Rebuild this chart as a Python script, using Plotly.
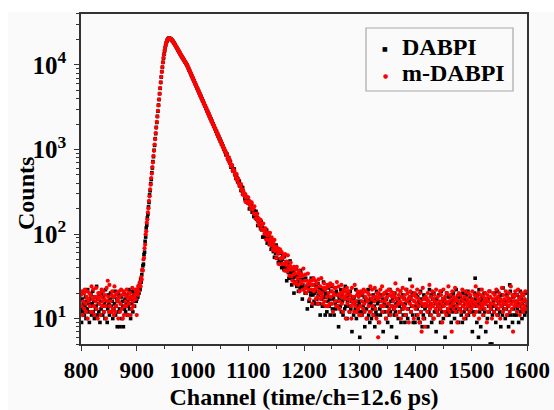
import plotly.graph_objects as go

# Channel numbers (categories along x)
channel = list(range(800, 1601))

# DABPI counts, one value per channel, 800..1600
dabpi = [
    13, 9, 17, 12, 15, 20, 11, 14, 18, 10, 16, 13, 22, 12, 15, 9, 17, 14, 19, 11,
    15, 21, 12, 16, 10, 18, 13, 14, 24, 11, 17, 15, 12, 19, 9, 16, 13, 20, 14, 11,
    18, 12, 15, 10, 22, 14, 16, 9, 13, 19, 15, 11, 17, 20, 12, 14, 16, 10, 18, 13,
    15, 21, 11, 14, 17, 8, 16, 12, 19, 13, 8, 15, 18, 10, 16, 14, 8, 20, 13, 17,
    12, 15, 19, 11, 16, 14, 22, 13, 17, 10, 18, 15, 21, 12, 16, 19, 14, 17, 20, 16,
    17, 21, 18, 24, 20, 26, 22, 29, 27, 33, 37, 42, 44, 57, 61, 82, 92, 118, 127, 155,
    171, 209, 236, 290, 325, 394, 442, 531, 603, 718, 821, 978, 1118, 1342, 1537, 1826, 2087, 2467, 2831, 3352,
    3887, 4573, 5281, 6224, 7183, 8322, 9371, 10731, 11962, 13388, 14662, 16041, 17163, 18245, 19068, 19842, 20261, 20643, 20672, 20619,
    20384, 20391, 19873, 19721, 19186, 18962, 18437, 18119, 17548, 17230, 16618, 16334, 15792, 15510, 14961, 14652, 14183, 13941, 13447, 13215,
    12752, 12533, 12104, 11921, 11538, 11347, 10962, 10804, 10451, 10297, 9931, 9704, 9281, 9063, 8659, 8451, 8093, 7897, 7551, 7370,
    7041, 6893, 6570, 6431, 6132, 6018, 5722, 5611, 5337, 5241, 4981, 4893, 4652, 4570, 4338, 4268, 4046, 3989, 3772, 3721,
    3531, 3479, 3290, 3248, 3069, 3035, 2861, 2836, 2671, 2648, 2489, 2473, 2325, 2308, 2166, 2155, 2019, 2012, 1884, 1879,
    1765, 1756, 1645, 1639, 1532, 1536, 1429, 1432, 1336, 1339, 1244, 1251, 1160, 1171, 1082, 1093, 1008, 1021, 942, 951,
    864, 884, 877, 801, 761, 803, 733, 692, 712, 617, 648, 639, 589, 552, 570, 587, 503, 506, 454, 485,
    458, 414, 434, 404, 422, 367, 370, 327, 361, 325, 353, 294, 303, 298, 260, 288, 256, 239, 264, 235,
    231, 245, 198, 225, 216, 200, 224, 181, 199, 183, 161, 189, 172, 154, 185, 149, 157, 126, 141, 148,
    145, 127, 116, 140, 112, 118, 92, 117, 111, 93, 109, 99, 91, 111, 78, 91, 84, 95, 75, 79,
    81, 66, 79, 70, 82, 62, 68, 53, 71, 59, 74, 52, 60, 60, 46, 62, 50, 45, 59, 49,
    40, 50, 55, 42, 38, 54, 42, 37, 47, 28, 41, 44, 35, 30, 40, 48, 30, 35, 25, 38,
    29, 35, 20, 32, 31, 27, 38, 24, 32, 27, 21, 33, 29, 23, 37, 24, 29, 17, 25, 29,
    29, 23, 20, 30, 20, 24, 13, 25, 24, 16, 25, 21, 19, 30, 14, 21, 19, 25, 16, 20,
    15, 21, 25, 17, 15, 26, 19, 15, 23, 11, 20, 22, 17, 14, 21, 27, 14, 18, 11, 20,
    18, 12, 19, 16, 23, 14, 17, 11, 21, 15, 24, 13, 17, 18, 11, 20, 15, 13, 21, 16,
    14, 19, 8, 18, 17, 14, 22, 12, 19, 16, 11, 21, 17, 13, 24, 14, 18, 10, 16, 20,
    19, 14, 12, 21, 13, 16, 7, 18, 17, 11, 18, 15, 13, 22, 10, 16, 14, 20, 12, 15,
    6, 16, 19, 12, 11, 20, 14, 12, 18, 8, 16, 17, 13, 10, 16, 22, 11, 15, 9, 17,
    15, 10, 16, 13, 19, 11, 14, 8, 17, 12, 21, 11, 15, 16, 9, 18, 13, 11, 19, 14,
    12, 17, 7, 16, 15, 12, 20, 10, 17, 14, 9, 19, 15, 11, 22, 12, 16, 8, 14, 17,
    18, 13, 11, 20, 12, 15, 6, 17, 16, 10, 17, 14, 12, 21, 9, 15, 13, 19, 11, 14,
    17, 9, 15, 11, 22, 16, 10, 13, 17, 16, 29, 18, 12, 14, 20, 11, 9, 19, 16, 9,
    14, 19, 11, 13, 18, 10, 16, 15, 9, 21, 12, 17, 8, 14, 11, 19, 10, 13, 18, 15,
    17, 14, 8, 16, 12, 22, 11, 15, 19, 9, 14, 17, 10, 20, 12, 16, 15, 7, 17, 12,
    14, 11, 19, 13, 15, 9, 21, 12, 14, 17, 10, 16, 17, 6, 15, 12, 20, 11, 13, 18,
    11, 15, 18, 13, 9, 19, 16, 12, 20, 14, 10, 17, 13, 22, 12, 15, 18, 9, 16, 13,
    13, 18, 11, 16, 9, 20, 14, 12, 17, 15, 10, 19, 13, 16, 21, 11, 15, 12, 18, 14,
    12, 17, 7, 16, 15, 12, 20, 30, 17, 14, 9, 19, 15, 6, 22, 12, 16, 8, 14, 17,
    18, 13, 11, 20, 12, 15, 7, 17, 16, 10, 17, 14, 12, 21, 5, 15, 13, 5, 11, 14,
    16, 12, 20, 14, 9, 17, 13, 21, 11, 15, 18, 12, 16, 8, 19, 14, 11, 23, 13, 15,
    15, 10, 16, 13, 19, 11, 14, 8, 17, 25, 21, 11, 15, 16, 9, 18, 13, 11, 19, 14,
    16, 11, 19, 13, 15, 9, 18, 14, 21, 12, 17, 10, 15, 19, 13, 16, 11, 20, 14, 12,
    13,
]

# m-DABPI counts, one value per channel, 800..1600
m_dabpi = [
    19, 14, 21, 11, 16, 20, 13, 22, 15, 12, 18, 21, 10, 17, 16, 20, 14, 19, 12, 24,
    12, 17, 22, 14, 11, 18, 16, 23, 13, 18, 10, 20, 17, 15, 20, 11, 18, 22, 14, 16,
    21, 12, 17, 19, 14, 10, 23, 16, 28, 18, 12, 25, 14, 16, 12, 19, 21, 13, 18, 11,
    24, 12, 19, 14, 20, 16, 17, 10, 21, 18, 12, 15, 22, 13, 19, 10, 21, 11, 14, 19,
    16, 14, 22, 18, 11, 20, 15, 17, 20, 11, 18, 13, 23, 16, 14, 17, 19, 22, 17, 20,
    11, 22, 19, 24, 21, 25, 27, 24, 31, 29, 38, 37, 50, 52, 68, 75, 99, 108, 136, 148,
    180, 201, 246, 279, 337, 383, 458, 519, 618, 704, 839, 962, 1141, 1322, 1563, 1801, 2114, 2439, 2866, 3318,
    3913, 4538, 5322, 6187, 7219, 8281, 9427, 10683, 12035, 13321, 14741, 15968, 17236, 18171, 19134, 19773, 20342, 20577, 20731, 20602,
    20461, 20283, 19952, 19688, 19247, 18931, 18472, 18082, 17571, 17188, 16659, 16311, 15827, 15472, 14988, 14627, 14207, 13902, 13488, 13181,
    12778, 12512, 12141, 11903, 11561, 11328, 10989, 10783, 10472, 10271, 9962, 9687, 9302, 9041, 8688, 8437, 8112, 7879, 7573, 7354,
    7063, 6871, 6598, 6412, 6157, 5993, 5745, 5592, 5361, 5222, 5004, 4875, 4671, 4552, 4359, 4251, 4068, 3970, 3795, 3705,
    3548, 3461, 3309, 3231, 3088, 3018, 2881, 2819, 2689, 2631, 2508, 2457, 2342, 2293, 2184, 2141, 2037, 1999, 1901, 1866,
    1779, 1743, 1659, 1627, 1547, 1522, 1444, 1420, 1349, 1327, 1257, 1239, 1173, 1159, 1095, 1081, 1021, 1009, 954, 940,
    919, 859, 873, 777, 788, 782, 711, 751, 679, 635, 651, 649, 558, 583, 554, 560, 505, 520, 461, 511,
    433, 441, 451, 398, 370, 393, 368, 390, 331, 339, 294, 326, 303, 284, 298, 241, 269, 276, 238, 233,
    271, 228, 242, 242, 215, 196, 236, 206, 196, 201, 175, 213, 170, 172, 153, 171, 174, 143, 154, 128,
    148, 132, 147, 115, 127, 133, 111, 133, 111, 100, 112, 117, 86, 102, 96, 104, 85, 97, 77, 103,
    75, 83, 91, 73, 65, 78, 72, 85, 63, 69, 52, 70, 64, 58, 67, 44, 61, 66, 51, 52,
    61, 44, 52, 55, 44, 37, 58, 46, 43, 47, 36, 56, 38, 40, 32, 42, 46, 32, 38, 28,
    39, 33, 41, 26, 34, 38, 27, 41, 30, 25, 34, 37, 21, 32, 28, 34, 26, 32, 22, 39,
    22, 28, 33, 23, 20, 28, 25, 34, 22, 26, 17, 28, 25, 22, 28, 15, 25, 30, 21, 22,
    28, 17, 23, 26, 18, 15, 29, 21, 20, 24, 17, 30, 18, 20, 15, 23, 26, 16, 22, 14,
    23, 18, 25, 14, 20, 24, 15, 26, 18, 15, 21, 25, 12, 20, 19, 23, 16, 23, 14, 27,
    14, 19, 24, 16, 13, 20, 18, 25, 15, 20, 12, 22, 18, 17, 21, 10, 19, 23, 15, 17,
    21, 12, 17, 19, 14, 10, 23, 16, 15, 18, 12, 25, 14, 16, 12, 19, 21, 13, 18, 11,
    19, 14, 21, 11, 16, 20, 13, 22, 15, 12, 18, 21, 10, 17, 16, 20, 14, 19, 12, 24,
    12, 17, 22, 14, 11, 18, 16, 23, 13, 18, 10, 20, 17, 6, 20, 9, 18, 22, 14, 16,
    24, 12, 19, 14, 20, 16, 17, 10, 21, 18, 12, 15, 22, 13, 19, 11, 21, 14, 18, 19,
    16, 20, 13, 18, 26, 14, 11, 17, 22, 15, 19, 12, 16, 21, 10, 18, 15, 23, 13, 17,
    14, 19, 11, 22, 16, 13, 20, 17, 9, 18, 15, 21, 12, 17, 24, 14, 19, 10, 16, 20,
    13, 18, 15, 22, 11, 17, 14, 9, 20, 16, 12, 7, 15, 23, 10, 17, 14, 8, 18, 15,
    17, 12, 20, 14, 16, 25, 13, 18, 11, 15, 21, 14, 17, 10, 19, 16, 13, 22, 15, 12,
    18, 14, 11, 16, 21, 13, 19, 15, 9, 17, 22, 14, 12, 18, 16, 11, 20, 15, 13, 24,
    16, 12, 19, 14, 17, 7, 21, 15, 13, 18, 16, 23, 12, 17, 14, 9, 19, 16, 20, 13,
    15, 19, 12, 17, 22, 14, 16, 10, 18, 13, 21, 15, 11, 17, 14, 20, 16, 12, 19, 15,
    13, 17, 21, 14, 16, 11, 19, 15, 24, 12, 18, 14, 16, 20, 10, 17, 13, 19, 15, 22,
    14, 11, 18, 16, 13, 20, 15, 17, 9, 19, 12, 16, 21, 14, 18, 13, 15, 10, 17, 20,
    15, 12, 19, 17, 14, 22, 11, 16, 18, 13, 20, 15, 10, 17, 14, 23, 16, 12, 19, 15,
    17, 13, 21, 15, 11, 18, 16, 14, 20, 12, 17, 24, 15, 13, 19, 7, 16, 18, 14, 21,
    15, 19, 12, 16, 22, 14, 17, 11, 18, 15, 20, 13, 16, 12, 19, 14, 17, 21, 13, 16,
    15,
]

assert len(dabpi) == len(channel), len(dabpi)
assert len(m_dabpi) == len(channel), len(m_dabpi)

series_names = ["DABPI", "m-DABPI"]
series_colors = ["#000000", "#ff0000"]
x_ticks = [800, 900, 1000, 1100, 1200, 1300, 1400, 1500, 1600]
y_ticks = [10, 100, 1000, 10000]
y_ticktext = ["10<sup>1</sup>", "10<sup>2</sup>", "10<sup>3</sup>", "10<sup>4</sup>"]
y_minor = [m * 10 ** e for e in range(0, 5) for m in range(2, 10) if 5 <= m * 10 ** e <= 40000]
x_title = "Channel (time/ch=12.6 ps)"
y_title = "Counts"

FONT = "Liberation Serif"
BG = "#fafafa"
AX = "#333333"

fig = go.Figure()
fig.add_trace(go.Scatter(
    x=channel, y=dabpi, mode="markers", name=series_names[0],
    marker=dict(symbol="square", size=3.6, color=series_colors[0], line=dict(width=0)),
))
fig.add_trace(go.Scatter(
    x=channel, y=m_dabpi, mode="markers", name=series_names[1],
    marker=dict(symbol="circle", size=4.2, color=series_colors[1], line=dict(width=0)),
))

# helpers converting reference pixel positions to paper coordinates
def px_x(p):
    return (p - 81) / 446.0

def px_y(p):
    return (344 - p) / 330.0

annotations = [
    dict(text="■", x=px_x(385), y=px_y(48), xref="paper", yref="paper", showarrow=False,
         font=dict(family="DejaVu Sans", size=6, color=series_colors[0]), xanchor="center", yanchor="middle"),
    dict(text="●", x=px_x(385), y=px_y(75), xref="paper", yref="paper", showarrow=False,
         font=dict(family="DejaVu Sans", size=6, color=series_colors[1]), xanchor="center", yanchor="middle"),
    dict(text=series_names[0], x=px_x(400), y=px_y(47), xref="paper", yref="paper", showarrow=False,
         font=dict(family=FONT, size=24, weight="bold", color="#000000"), xanchor="left", yanchor="middle"),
    dict(text=series_names[1], x=px_x(400), y=px_y(73), xref="paper", yref="paper", showarrow=False,
         font=dict(family=FONT, size=24, weight="bold", color="#000000"), xanchor="left", yanchor="middle"),
    dict(text=y_title, x=px_x(26), y=px_y(194), xref="paper", yref="paper", showarrow=False,
         textangle=-90, font=dict(family=FONT, size=24, weight="bold", color="#000000"),
         xanchor="center", yanchor="middle"),
]

fig.update_layout(
    width=554, height=410,
    margin=dict(l=81, r=27, t=14, b=66, autoexpand=False),
    paper_bgcolor="white", plot_bgcolor=BG,
    font=dict(family=FONT, color="#000000", size=23, weight="bold"),
    showlegend=False,
    annotations=annotations,
    shapes=[
        dict(type="rect", xref="paper", yref="paper", layer="below",
             x0=-0.1637, x1=1.0605, y0=-0.2, y1=1.006,
             fillcolor=BG, line=dict(width=0)),
        dict(type="rect", xref="paper", yref="paper", layer="above",
             x0=px_x(366), x1=px_x(513), y0=px_y(91), y1=px_y(28),
             fillcolor="rgba(0,0,0,0)", line=dict(color="#a8a8a8", width=1.2)),
    ],
)

fig.update_xaxes(
    range=[800, 1600], tickmode="array", tickvals=x_ticks, automargin=False,
    ticks="outside", ticklen=5, tickwidth=1.3, tickcolor=AX,
    showline=True, linecolor=AX, linewidth=1.5, mirror=True,
    showgrid=False, zeroline=False,
    minor=dict(dtick=50, tick0=800, ticks="outside", ticklen=3, tickwidth=1.2, tickcolor=AX),
    tickfont=dict(family=FONT, size=23, weight="bold"),
    ticklabelstandoff=0,
    title=dict(text=x_title, font=dict(family=FONT, size=24, weight="bold"), standoff=10),
)

fig.update_yaxes(
    type="log", range=[0.699, 4.602], automargin=False,
    tickmode="array", tickvals=y_ticks, ticktext=y_ticktext,
    ticks="outside", ticklen=5, tickwidth=1.3, tickcolor=AX,
    showline=True, linecolor=AX, linewidth=1.5, mirror=True,
    showgrid=False, zeroline=False,
    minor=dict(tickvals=y_minor, ticks="outside", ticklen=3, tickwidth=1.2, tickcolor=AX),
    tickfont=dict(family=FONT, size=25, weight="bold"),
    ticklabelstandoff=3,
)

fig.write_html("out.html")
